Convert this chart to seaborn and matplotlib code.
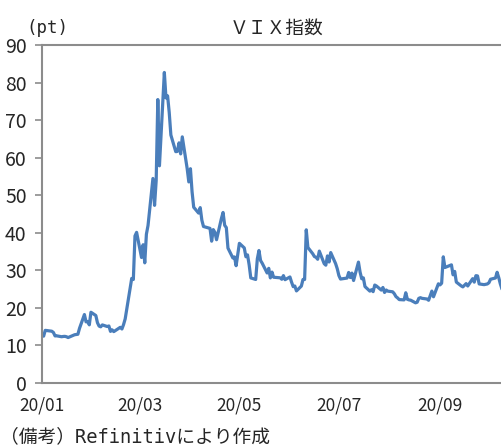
import pandas as pd
import seaborn as sns
import matplotlib
matplotlib.use('Agg')
import matplotlib.pyplot as plt
import matplotlib.dates as mdates

# =============================================================================
# Data (VIX close), one list per month
# =============================================================================
jan_days = [2, 3, 6, 7, 8, 9, 10, 13, 14, 15, 16, 17, 21, 22, 23, 24, 27, 28, 29, 30, 31]
jan_vix = [12.47, 14.02, 13.85, 13.79, 13.45, 12.54, 12.56, 12.32, 12.39, 12.42, 12.32, 12.10,
           12.85, 12.91, 12.98, 14.56, 18.23, 16.28, 16.39, 15.49, 18.84]
feb_days = [3, 4, 5, 6, 7, 10, 11, 12, 13, 14, 18, 19, 20, 21, 24, 25, 26, 27, 28]
feb_vix = [17.97, 16.05, 15.15, 14.96, 15.47, 15.04, 15.18, 13.74, 14.15, 13.68, 14.83, 14.38,
           15.56, 17.08, 25.03, 27.85, 27.56, 39.16, 40.11]
mar_days = [2, 3, 4, 5, 6, 9, 10, 11, 12, 13, 16, 17, 18, 19, 20, 23, 24, 25, 26, 27, 30, 31]
mar_vix = [33.42, 36.82, 31.99, 39.62, 41.94, 54.46, 47.30, 53.90, 75.47, 57.83, 82.69, 75.91,
           76.45, 72.00, 66.04, 61.59, 61.67, 63.95, 61.00, 65.54, 57.08, 53.54]
apr_days = [1, 2, 3, 6, 7, 8, 9, 13, 14, 15, 16, 17, 20, 21, 22, 23, 24, 27, 28, 29, 30]
apr_vix = [57.06, 50.91, 46.80, 45.24, 46.70, 43.35, 41.67, 41.17, 37.76, 40.84, 40.11, 38.15,
           43.83, 45.41, 41.98, 41.38, 35.93, 33.29, 33.57, 31.23, 34.15]
may_days = [1, 4, 5, 6, 7, 8, 11, 12, 13, 14, 15, 18, 19, 20, 21, 22, 26, 27, 28, 29]
may_vix = [37.19, 35.97, 33.61, 34.12, 31.44, 27.98, 27.57, 33.04, 35.28, 32.61, 31.89, 29.30,
           30.53, 27.99, 29.53, 28.16, 28.01, 27.62, 28.59, 27.51]
jun_days = [1, 2, 3, 4, 5, 8, 9, 10, 11, 12, 15, 16, 17, 18, 19, 22, 23, 24, 25, 26, 29, 30]
jun_vix = [28.23, 26.84, 25.66, 25.81, 24.52, 25.81, 27.57, 27.57, 40.79, 36.09, 34.40, 33.67,
           33.47, 32.94, 35.12, 31.77, 31.37, 33.84, 32.22, 34.73, 31.78, 30.43]
jul_days = [1, 2, 6, 7, 8, 9, 10, 13, 14, 15, 16, 17, 20, 21, 22, 23, 24, 27, 28, 29, 30, 31]
jul_vix = [28.62, 27.68, 27.94, 29.43, 28.08, 29.26, 27.29, 32.19, 29.52, 27.76, 28.00, 25.68,
           24.46, 24.84, 24.32, 26.08, 25.84, 24.74, 25.44, 24.10, 24.76, 24.46]
aug_days = [3, 4, 5, 6, 7, 10, 11, 12, 13, 14, 17, 18, 19, 20, 21, 24, 25, 26, 27, 28, 31]
aug_vix = [24.28, 23.76, 23.00, 22.65, 22.21, 22.13, 24.03, 22.28, 22.13, 22.05, 21.35, 21.51,
           22.54, 22.72, 22.54, 22.37, 22.03, 23.27, 24.47, 22.96, 26.41]
sep_days = [1, 2, 3, 4, 8, 9, 10, 11, 14, 15, 16, 17, 18, 21, 22, 23, 24, 25, 28, 29, 30]
sep_vix = [26.12, 26.57, 33.60, 30.75, 31.46, 28.81, 29.71, 26.87, 25.85, 25.59, 26.04, 26.46,
           25.83, 27.78, 26.86, 28.58, 28.51, 26.38, 26.19, 26.27, 26.37]
oct_days = [1, 2, 5, 6, 7, 8, 9]
oct_vix = [26.70, 27.63, 27.96, 29.48, 28.06, 26.36, 25.00]

y_ticks = [0, 10, 20, 30, 40, 50, 60, 70, 80, 90]
x_ticks = ['2020-01-01', '2020-03-01', '2020-05-01', '2020-07-01', '2020-09-01']

months = [(1, jan_days, jan_vix), (2, feb_days, feb_vix), (3, mar_days, mar_vix),
          (4, apr_days, apr_vix), (5, may_days, may_vix), (6, jun_days, jun_vix),
          (7, jul_days, jul_vix), (8, aug_days, aug_vix), (9, sep_days, sep_vix),
          (10, oct_days, oct_vix)]

dfs = []
for m, days, vals in months:
    dfs.append(pd.DataFrame({
        'Date': [pd.Timestamp(2020, m, d) for d in days],
        'VIX': vals,
    }))
df = pd.concat(dfs, ignore_index=True)

# =============================================================================
# Plotting
# =============================================================================
sns.set_style('white')
plt.rcParams['font.family'] = ['Noto Sans CJK JP', 'DejaVu Sans']
mono_jp = ['DejaVu Sans Mono', 'Noto Sans CJK JP']

fig = plt.figure(figsize=(5.02, 4.47), dpi=100)
ax = fig.add_axes([42 / 502, 1 - 383 / 447, 1 - 42 / 502, (383 - 45) / 447])

sns.lineplot(data=df, x='Date', y='VIX', color='#4A7EBB', linewidth=2.3, ax=ax)

ax.set_ylim(0, 90)
ax.set_xlim(pd.Timestamp('2020-01-01'), pd.Timestamp('2020-10-09'))
ax.set_yticks(y_ticks)
ax.set_xticks(pd.to_datetime(x_ticks))
ax.xaxis.set_major_formatter(mdates.DateFormatter('%y/%m'))
ax.set_xlabel('')
ax.set_ylabel('')

ax.spines['right'].set_visible(False)
for side in ['left', 'bottom', 'top']:
    ax.spines[side].set_color('#8C8C8C')
    ax.spines[side].set_linewidth(1.5)

ax.tick_params(axis='y', length=5, width=1.2, color='#8C8C8C', labelsize=14, pad=6, left=True)
ax.tick_params(axis='x', length=0, labelsize=12.5, pad=10)

fig.text(277 / 502, 1 - 28 / 447, 'ＶＩＸ指数', ha='center', va='center', fontsize=13.5)
fig.text(26 / 502, 1 - 28 / 447, '(pt)', ha='left', va='center', fontsize=12.5, family=mono_jp)
fig.text(0.0, 1 - 437 / 447, '（備考）Refinitivにより作成', ha='left', va='center',
         fontsize=13.5, family=mono_jp)

plt.savefig('out.png', dpi=100)
